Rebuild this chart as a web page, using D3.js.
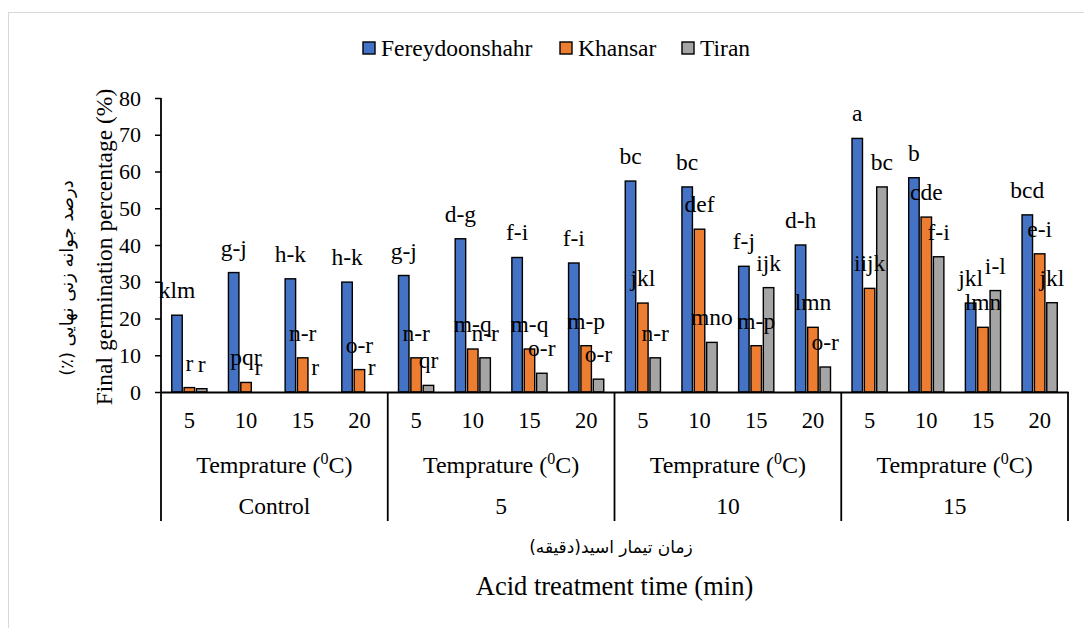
<!DOCTYPE html>
<html>
<head>
<meta charset="utf-8">
<script src="https://cdn.jsdelivr.net/npm/d3@7/dist/d3.min.js"></script>
<style>
  html, body { margin: 0; padding: 0; background: #fff; }
  svg { display: block; }
  text { font-family: "Liberation Serif", "Times New Roman", serif; fill: #000; }
  .fa { font-family: "DejaVu Sans", "Noto Sans", sans-serif; }
</style>
</head>
<body>
<svg id="chart" width="1084" height="628"></svg>
<script>
// Final germination percentage by acid treatment time and temperature
const acidTimes = ["Control", "5", "10", "15"];
const temperatures = ["5", "10", "15", "20"];
const seriesNames = ["Fereydoonshahr", "Khansar", "Tiran"];
const seriesColors = ["#4472C4", "#ED7D31", "#A5A5A5"];

const fereydoonshahr = [20.9, 32.5, 30.8, 29.9, 31.7, 41.7, 36.6, 35.1, 57.4, 55.8, 34.2, 40.0, 69.0, 58.3, 24.2, 48.2];
const khansar        = [1.2, 2.6, 9.3, 6.1, 9.3, 11.7, 11.7, 12.6, 24.2, 44.3, 12.6, 17.6, 28.2, 47.6, 17.6, 37.6];
const tiran          = [0.9, 0, 0, 0, 1.8, 9.3, 5.1, 3.5, 9.3, 13.5, 28.4, 6.8, 55.8, 36.8, 27.6, 24.3];

const lettersF = ["klm", "g-j", "h-k", "h-k", "g-j", "d-g", "f-i", "f-i", "bc", "bc", "f-j", "d-h", "a", "b", "jkl", "bcd"];
const lettersK = ["r", "pqr", "n-r", "o-r", "n-r", "m-q", "m-q", "m-p", "jkl", "def", "m-p", "lmn", "iijk", "cde", "lmn", "e-i"];
const lettersT = ["r", "r", "r", "r", "qr", "n-r", "o-r", "o-r", "n-r", "mno", "ijk", "o-r", "bc", "f-i", "i-l", "jkl"];

const yTicks = [0, 10, 20, 30, 40, 50, 60, 70, 80];

const yTitle = "Final germination percentage (%)";
const yTitleFa = "درصد جوانه زنی نهایی (٪)";
const xTitle = "Acid treatment time (min)";
const xTitleFa = "زمان تیمار اسید(دقیقه)";
const tempLabel = "Temprature (";

const SERIF = '"Liberation Serif", "Times New Roman", serif';

// Build rows from the arrays
const values = [fereydoonshahr, khansar, tiran];
const letters = [lettersF, lettersK, lettersT];
const keys = [];
acidTimes.forEach(a => temperatures.forEach(t => keys.push(a + "|" + t)));
const rows = keys.map((k, i) => ({
  key: k,
  acid: k.split("|")[0],
  temp: k.split("|")[1],
  bars: seriesNames.map((s, j) => ({ series: s, idx: j, value: values[j][i], letter: letters[j][i] }))
}));

const svg = d3.select("#chart");

// Chart-area border
svg.append("rect")
  .attr("x", 8.5).attr("y", 12.5).attr("width", 1200).attr("height", 700)
  .attr("fill", "none").attr("stroke", "#d9d9d9").attr("stroke-width", 1);

const plotLeft = 161, plotRight = 1068, plotTop = 98, plotBottom = 392, catBottom = 521;

const x0 = d3.scaleBand().domain(keys).range([plotLeft, plotRight]).padding(0);
const x1 = d3.scaleBand().domain(seriesNames).range([0, x0.bandwidth()])
  .paddingInner(0.15).paddingOuter(0.87);
const y = d3.scaleLinear().domain([0, 80]).range([plotBottom, plotTop]);

// Bars
const groups = svg.append("g").selectAll("g").data(rows).join("g")
  .attr("transform", d => `translate(${x0(d.key)},0)`);

groups.selectAll("rect").data(d => d.bars).join("rect")
  .attr("x", d => x1(d.series))
  .attr("y", d => y(d.value))
  .attr("width", x1.bandwidth())
  .attr("height", d => y(0) - y(d.value))
  .attr("fill", d => seriesColors[d.idx])
  .attr("stroke", "#000").attr("stroke-width", 1.4);

// Y axis
const yAxis = svg.append("g").attr("transform", `translate(${plotLeft},0)`)
  .call(d3.axisLeft(y).tickValues(yTicks).tickSize(6).tickPadding(14).tickSizeOuter(0));
yAxis.select(".domain").remove();
yAxis.selectAll(".tick line").attr("stroke", "#000").attr("stroke-width", 1.5);
yAxis.selectAll(".tick text").style("font-size", "22px").style("font-family", SERIF);

// X axis: temperature level
const xAxis = svg.append("g").attr("transform", `translate(0,${plotBottom})`)
  .call(d3.axisBottom(x0).tickSize(0).tickPadding(20).tickFormat(k => k.split("|")[1]));
xAxis.select(".domain").attr("stroke", "#000").attr("stroke-width", 2);
xAxis.selectAll(".tick text").style("font-size", "22.5px").style("font-family", SERIF);

// Vertical axis line continues through the category area
svg.append("line")
  .attr("x1", plotLeft).attr("x2", plotLeft).attr("y1", plotTop).attr("y2", catBottom)
  .attr("stroke", "#000").attr("stroke-width", 1.8);

// Group dividers
const groupEdges = acidTimes.map(a => x0(a + "|" + temperatures[0]));
groupEdges.push(plotRight);
svg.append("g").selectAll("line").data(groupEdges.slice(1)).join("line")
  .attr("x1", d => d).attr("x2", d => d)
  .attr("y1", plotBottom).attr("y2", catBottom)
  .attr("stroke", "#000").attr("stroke-width", 1.8);

// Temperature caption and acid-time labels per group
acidTimes.forEach((a, i) => {
  const cx = (groupEdges[i] + groupEdges[i + 1]) / 2;
  const t = svg.append("text").attr("x", cx).attr("y", 472.5)
    .attr("text-anchor", "middle").style("font-size", "24px").style("font-family", SERIF);
  t.append("tspan").text(tempLabel);
  t.append("tspan").attr("dy", -9).style("font-size", "16px").text("0");
  t.append("tspan").attr("dy", 9).text("C)");
  svg.append("text").attr("x", cx).attr("y", 514)
    .attr("text-anchor", "middle").style("font-size", "23.5px").style("font-family", SERIF).text(a);
});

// Letter labels above bars
groups.selectAll("text.lbl").data(d => d.bars).join("text")
  .attr("class", "lbl")
  .attr("x", d => x1(d.series) + x1.bandwidth() / 2)
  .attr("y", d => y(d.value) - 17)
  .attr("text-anchor", "middle")
  .style("font-size", "23.5px").style("font-family", SERIF)
  .text(d => d.letter);

// Legend
const legendX = [363, 560, 682];
const legend = svg.append("g");
seriesNames.forEach((s, i) => {
  legend.append("rect").attr("x", legendX[i]).attr("y", 42).attr("width", 12).attr("height", 12)
    .attr("fill", seriesColors[i]).attr("stroke", "#000").attr("stroke-width", 1.4);
  legend.append("text").attr("x", legendX[i] + 18).attr("y", 55.5)
    .style("font-size", "23.5px").style("font-family", SERIF).text(s);
});

// Axis titles
svg.append("text")
  .attr("transform", `translate(112,247) rotate(-90)`)
  .attr("text-anchor", "middle").style("font-size", "23.5px").style("font-family", SERIF).text(yTitle);
svg.append("text").attr("class", "fa")
  .attr("transform", `translate(73,278) rotate(-90)`)
  .attr("text-anchor", "middle").style("font-size", "18px")
  .attr("direction", "rtl").text(yTitleFa);
svg.append("text").attr("class", "fa")
  .attr("x", 611).attr("y", 553)
  .attr("text-anchor", "middle").style("font-size", "17px")
  .attr("direction", "rtl").text(xTitleFa);
svg.append("text")
  .attr("x", 614.5).attr("y", 595)
  .attr("text-anchor", "middle").style("font-size", "26.5px").style("font-family", SERIF).text(xTitle);
</script>
</body>
</html>
